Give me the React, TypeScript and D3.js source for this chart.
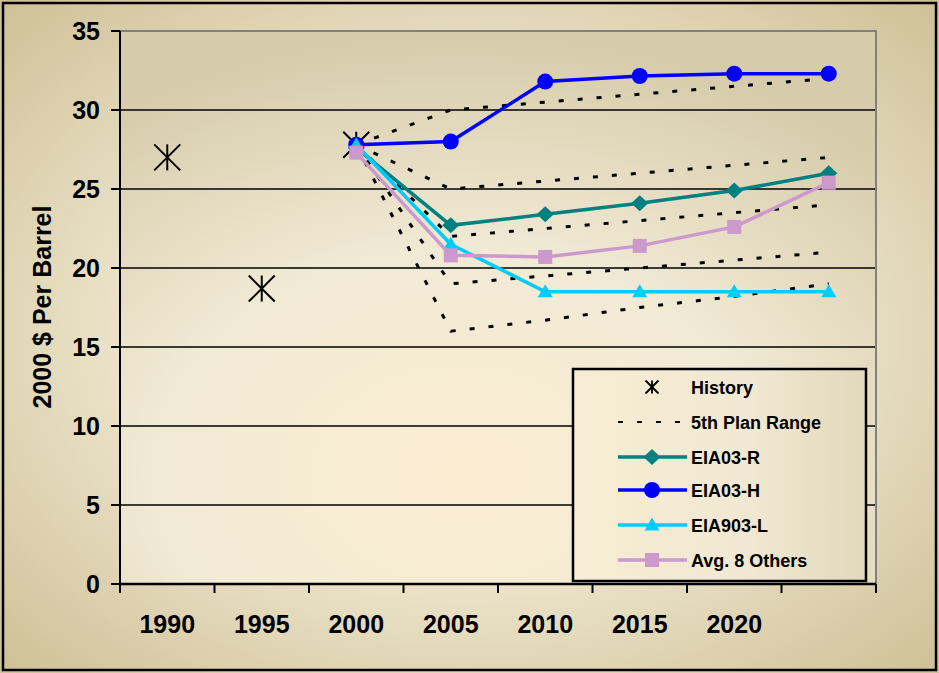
import React from "react";
import * as d3 from "d3";

const categories = ["1990", "1995", "2000", "2005", "2010", "2015", "2020", "2025"];
const tickLabels = ["1990", "1995", "2000", "2005", "2010", "2015", "2020", ""];
const yTicks = [0, 5, 10, 15, 20, 25, 30, 35];

const historyYears = ["1990", "1995", "2000"];
const historyValues = [27.0, 18.7, 27.8];

const projYears = ["2000", "2005", "2010", "2015", "2020", "2025"];
const eia03R = [27.6, 22.7, 23.4, 24.1, 24.9, 26.0];
const eia03H = [27.8, 28.0, 31.8, 32.15, 32.3, 32.3];
const eia903L = [27.8, 21.5, 18.5, 18.5, 18.5, 18.5];
const avg8Others = [27.3, 20.8, 20.7, 21.4, 22.6, 25.4];

const rangeLine1 = [27.8, 30.0, 30.5, 31.0, 31.5, 32.0];
const rangeLine2 = [27.8, 25.0, 25.5, 26.0, 26.5, 27.0];
const rangeLine3 = [27.8, 22.0, 22.5, 23.0, 23.5, 24.0];
const rangeLine4 = [27.8, 19.0, 19.5, 20.0, 20.5, 21.0];
const rangeLine5 = [27.8, 16.0, 16.7, 17.5, 18.2, 19.0];
const rangeLines = [rangeLine1, rangeLine2, rangeLine3, rangeLine4, rangeLine5];

const W = 939;
const H = 673;
const plot = { left: 120, right: 876, top: 31, bottom: 584 };

const x = d3.scaleBand<string>().domain(categories).range([plot.left, plot.right]).padding(0);
const y = d3.scaleLinear().domain([0, 35]).range([plot.bottom, plot.top]);
const cx = (c: string) => (x(c) as number) + x.bandwidth() / 2;

const lineGen = d3
  .line<[string, number]>()
  .x((d) => cx(d[0]))
  .y((d) => y(d[1]));

const pairs = (vals: number[]) => projYears.map((yr, i) => [yr, vals[i]] as [string, number]);

const FONT = "'Liberation Sans', Arial, Helvetica, sans-serif";

const C_TEAL = "#008080";
const C_BLUE = "#0000FF";
const C_CYAN = "#00CCFF";
const C_PINK = "#CC99CC";

function Asterisk({ px, py, s }: { px: number; py: number; s: number }) {
  return (
    <g stroke="#000" strokeWidth={s > 8 ? 2 : 1.8}>
      <line x1={px} y1={py - s} x2={px} y2={py + s} />
      <line x1={px - s} y1={py - s} x2={px + s} y2={py + s} />
      <line x1={px - s} y1={py + s} x2={px + s} y2={py - s} />
    </g>
  );
}

function Marker({ kind, px, py, color }: { kind: string; px: number; py: number; color: string }) {
  if (kind === "circle") return <circle cx={px} cy={py} r={8} fill={color} />;
  if (kind === "diamond")
    return <path d={`M${px},${py - 8}L${px + 8.5},${py}L${px},${py + 8}L${px - 8.5},${py}Z`} fill={color} />;
  if (kind === "triangle")
    return <path d={`M${px},${py - 7.5}L${px + 7.5},${py + 5.5}L${px - 7.5},${py + 5.5}Z`} fill={color} />;
  return <rect x={px - 7} y={py - 7} width={14} height={14} fill={color} />;
}

const series = [
  { name: "EIA03-R", values: eia03R, color: C_TEAL, kind: "diamond" },
  { name: "EIA03-H", values: eia03H, color: C_BLUE, kind: "circle" },
  { name: "EIA903-L", values: eia903L, color: C_CYAN, kind: "triangle" },
  { name: "Avg. 8 Others", values: avg8Others, color: C_PINK, kind: "square" },
];

export default function App() {
  const legend = { x: 573, y: 369, w: 293, h: 212 };
  const rowY = [387, 422, 457, 490, 525, 560];
  const lx1 = 618;
  const lx2 = 687;
  const lmx = 652;
  const ltx = 691;

  return (
    <svg
      width={W}
      height={H}
      style={{ position: "absolute", left: 0, top: 0, display: "block" }}
      fontFamily={FONT}
    >
      <defs>
        <radialGradient id="outerBg" cx="50%" cy="50%" r="72%">
          <stop offset="0%" stopColor="#F6EFDA" />
          <stop offset="45%" stopColor="#EFE7CF" />
          <stop offset="100%" stopColor="#CDBE94" />
        </radialGradient>
        <radialGradient id="plotBg" cx="45%" cy="80%" r="80%">
          <stop offset="0%" stopColor="#FBEDD2" />
          <stop offset="50%" stopColor="#F1EAD5" />
          <stop offset="100%" stopColor="#D6CBAA" />
        </radialGradient>
        <linearGradient id="legendBg" x1="0" y1="0" x2="1" y2="0">
          <stop offset="0%" stopColor="#F8EDD4" />
          <stop offset="60%" stopColor="#F0E8D2" />
          <stop offset="100%" stopColor="#E2D8BC" />
        </linearGradient>
      </defs>

      <rect x={0} y={0} width={W} height={H} fill="url(#outerBg)" />
      <rect x={3} y={3} width={933} height={667} fill="none" stroke="#000" strokeWidth={2.5} />

      <rect
        x={plot.left}
        y={plot.top}
        width={plot.right - plot.left}
        height={plot.bottom - plot.top}
        fill="url(#plotBg)"
      />

      {/* gridlines */}
      {yTicks
        .filter((t) => t > 0 && t < 35)
        .map((t) => (
          <line key={"g" + t} x1={plot.left} x2={plot.right} y1={y(t)} y2={y(t)} stroke="#000" strokeWidth={1.3} />
        ))}

      {/* plot border top/right (gray) */}
      <path
        d={`M${plot.left},${y(35)}L${plot.right},${y(35)}L${plot.right},${plot.bottom}`}
        fill="none"
        stroke="#808080"
        strokeWidth={2}
      />

      {/* y axis */}
      <line x1={plot.left} x2={plot.left} y1={plot.top} y2={plot.bottom} stroke="#000" strokeWidth={2} />
      {yTicks.map((t) => (
        <g key={"yt" + t}>
          <line x1={plot.left - 9} x2={plot.left} y1={y(t)} y2={y(t)} stroke="#000" strokeWidth={2} />
          <text x={100} y={y(t) + 9} textAnchor="end" fontSize={25} fontWeight="bold" fill="#000">
            {t}
          </text>
        </g>
      ))}

      {/* x axis */}
      <line x1={plot.left} x2={plot.right} y1={plot.bottom} y2={plot.bottom} stroke="#000" strokeWidth={2.5} />
      {categories.map((c) => (
        <line
          key={"xt" + c}
          x1={x(c) as number}
          x2={x(c) as number}
          y1={plot.bottom}
          y2={plot.bottom + 9}
          stroke="#000"
          strokeWidth={2}
        />
      ))}
      <line x1={plot.right} x2={plot.right} y1={plot.bottom} y2={plot.bottom + 9} stroke="#000" strokeWidth={2} />
      {categories.map((c, i) => (
        <text key={"xl" + c} x={cx(c)} y={633} textAnchor="middle" fontSize={25} fontWeight="bold" fill="#000">
          {tickLabels[i]}
        </text>
      ))}

      {/* y title */}
      <text
        transform={`translate(51,${307}) rotate(-90)`}
        textAnchor="middle"
        fontSize={25}
        fontWeight="bold"
        fill="#000"
      >
        2000 $ Per Barrel
      </text>

      {/* 5th plan range dashed lines */}
      {rangeLines.map((vals, i) => (
        <path
          key={"r" + i}
          d={lineGen(pairs(vals)) as string}
          fill="none"
          stroke="#000"
          strokeWidth={3}
          strokeDasharray="5 14"
        />
      ))}

      {/* history */}
      {historyYears.map((yr, i) => (
        <Asterisk key={"h" + yr} px={cx(yr)} py={y(historyValues[i])} s={13} />
      ))}

      {/* projection series */}
      {series.map((s) => (
        <g key={s.name}>
          <path d={lineGen(pairs(s.values)) as string} fill="none" stroke={s.color} strokeWidth={3.5} />
          {s.values.map((v, i) => (
            <Marker key={i} kind={s.kind} px={cx(projYears[i])} py={y(v)} color={s.color} />
          ))}
        </g>
      ))}

      {/* legend */}
      <rect
        x={legend.x}
        y={legend.y}
        width={legend.w}
        height={legend.h}
        fill="url(#legendBg)"
        stroke="#000"
        strokeWidth={2.5}
      />
      <Asterisk px={lmx} py={rowY[0]} s={6.5} />
      <text x={ltx} y={rowY[0] + 6.5} fontSize={18} fontWeight="bold" fill="#000">
        History
      </text>
      <line x1={lx1} x2={lx2} y1={rowY[1]} y2={rowY[1]} stroke="#000" strokeWidth={2} strokeDasharray="5 14" />
      <text x={ltx} y={rowY[1] + 6.5} fontSize={18} fontWeight="bold" fill="#000">
        5th Plan Range
      </text>
      {series.map((s, i) => (
        <g key={"lg" + s.name}>
          <line x1={lx1} x2={lx2} y1={rowY[i + 2]} y2={rowY[i + 2]} stroke={s.color} strokeWidth={3.5} />
          <Marker kind={s.kind} px={lmx} py={rowY[i + 2]} color={s.color} />
          <text x={ltx} y={rowY[i + 2] + 6.5} fontSize={18} fontWeight="bold" fill="#000">
            {s.name}
          </text>
        </g>
      ))}
    </svg>
  );
}
